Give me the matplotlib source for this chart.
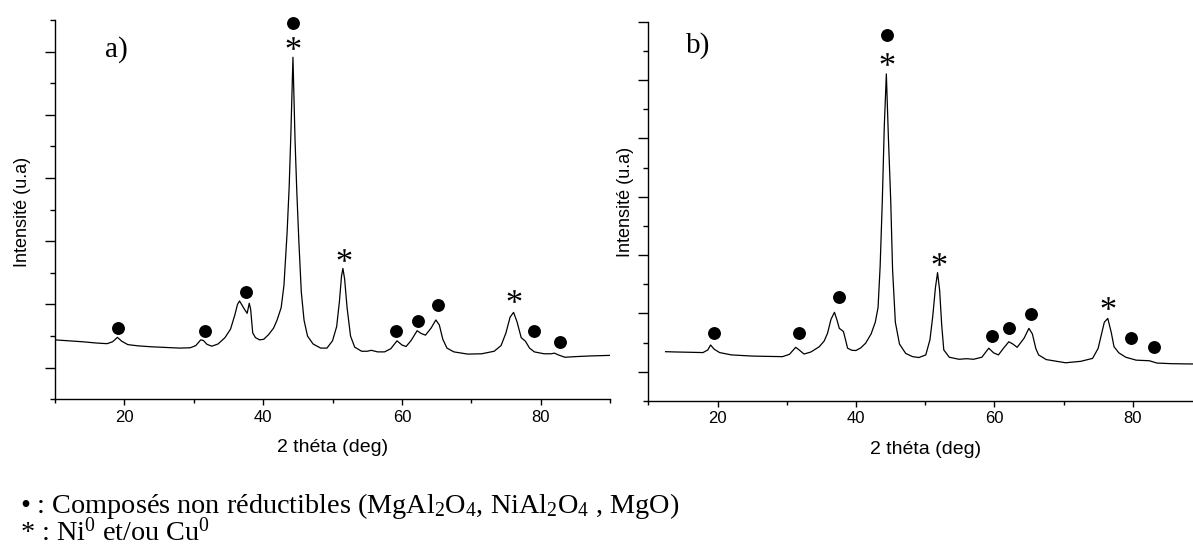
import numpy as np
import matplotlib
matplotlib.use("Agg")
import matplotlib.pyplot as plt
from matplotlib.ticker import MultipleLocator, NullFormatter
from matplotlib.textpath import TextPath
from matplotlib.path import Path
from matplotlib.font_manager import FontProperties

# pattern a) : 2theta (deg) and intensity (arbitrary units)
a_theta = [10, 12, 14, 16, 17.5, 18.3, 19.0, 19.6, 20.5, 22, 24, 26, 28, 29.5,
           30.3, 31.0, 31.4, 31.9, 32.6, 33.5, 34.5, 35.3, 35.9, 36.3, 36.6,
           36.9, 37.3, 37.7, 38.0, 38.2, 38.5, 38.9, 39.5, 40.1, 40.8, 41.5,
           42.0, 42.6, 43.0, 43.45, 43.75, 44.0, 44.3, 44.6, 44.85, 45.15,
           45.5, 45.9, 46.4, 47.2, 48.3, 49.2, 50.0, 50.6, 51.0, 51.3, 51.5,
           51.75, 52.1, 52.6, 53.2, 54.2, 55.0, 55.6, 56.5, 57.5, 58.4, 59.3,
           60.0, 60.6, 61.3, 62.2, 62.8, 63.4, 64.2, 64.9, 65.4, 65.9, 66.5,
           67.5, 69.5, 71.5, 73.3, 74.3, 75.0, 75.6, 76.1, 76.6, 77.2, 77.8,
           78.4, 79.1, 80.5, 81.5, 82.0, 82.6, 83.5, 85, 87, 90]
a_int = [1.88, 1.85, 1.82, 1.78, 1.76, 1.82, 1.96, 1.84, 1.73, 1.69, 1.66, 1.64,
         1.62, 1.63, 1.70, 1.88, 1.86, 1.74, 1.68, 1.75, 1.95, 2.22, 2.65, 3.00,
         3.11, 3.00, 2.85, 2.72, 3.04, 2.85, 2.10, 1.95, 1.88, 1.90, 2.05, 2.25,
         2.50, 2.90, 3.60, 5.25, 6.70, 8.40, 10.82, 8.20, 6.60, 5.00,
         3.40, 2.50, 2.00, 1.75, 1.62, 1.62, 1.85, 2.30, 3.10, 3.90, 4.14,
         3.80, 2.90, 2.00, 1.65, 1.52, 1.52, 1.55, 1.50, 1.50, 1.60, 1.85,
         1.72, 1.67, 1.85, 2.17, 2.08, 2.03, 2.25, 2.51, 2.35, 1.90, 1.62,
         1.50, 1.43, 1.44, 1.52, 1.70, 2.10, 2.60, 2.75, 2.45, 1.95, 1.84,
         1.62, 1.50, 1.44, 1.44, 1.46, 1.40, 1.33, 1.35, 1.37, 1.39]

# pattern b)
b_theta = [12.5, 14, 16, 17.9, 18.6, 19.0, 19.5, 20.3, 22, 25, 27, 29.4, 30.4,
           31.3, 31.8, 32.5, 33.5, 34.7, 35.4, 35.9, 36.4, 36.9, 37.3, 37.6,
           38.0, 38.2, 38.5, 38.8, 39.4, 40.0, 40.7, 41.4, 42.2, 42.8, 43.2,
           43.5, 43.82, 44.1, 44.4, 44.7, 45.03, 45.3, 45.7, 46.3, 47.2, 48.2,
           49.1, 50.1, 50.7, 51.1, 51.5, 51.8, 52.1, 52.4, 52.7, 53.5, 54.9,
           56.0, 57.0, 58.2, 59.2, 59.9, 60.6, 61.3, 62.1, 62.7, 63.3, 64.3,
           65.0, 65.5, 66.0, 66.4, 67.5, 70.3, 72.5, 74.2, 75.0, 75.4, 75.9,
           76.4, 76.9, 77.3, 78.0, 79.0, 80.5, 82.4, 83.5, 85.5, 88.1, 89.5]
b_int = [1.69, 1.68, 1.67, 1.66, 1.75, 1.92, 1.78, 1.66, 1.58, 1.54, 1.53, 1.52,
         1.60, 1.84, 1.75, 1.61, 1.68, 1.86, 2.05, 2.32, 2.80, 3.04, 2.75, 2.49,
         2.42, 2.38, 2.10, 1.81, 1.74, 1.73, 1.82, 1.98, 2.30, 2.70, 3.20,
         4.60, 6.89, 9.40, 11.21, 9.00, 6.89, 4.50, 2.70, 1.95, 1.63, 1.52,
         1.49, 1.58, 2.10, 2.89, 3.90, 4.40, 3.80, 2.60, 1.75, 1.50, 1.43,
         1.45, 1.43, 1.50, 1.81, 1.65, 1.58, 1.80, 2.03, 1.95, 1.84, 2.15,
         2.49, 2.30, 1.80, 1.58, 1.42, 1.31, 1.36, 1.46, 1.80, 2.20, 2.70,
         2.83, 2.35, 1.86, 1.65, 1.50, 1.40, 1.38, 1.30, 1.28, 1.27, 1.27]

# phase markers (dots: non reducible compounds, stars: Ni0 / Cu0)
a_dot_x = [19.15, 31.6, 37.55, 44.35, 59.2, 62.36, 65.15, 79.0, 82.75]
a_dot_y = [2.27, 2.17, 3.41, 11.92, 2.17, 2.49, 2.97, 2.17, 1.80]
a_star_x = [44.35, 51.7, 76.1]
a_star_y = [11.27, 4.57, 3.27]
b_dot_x = [19.5, 31.8, 37.5, 44.5, 59.7, 62.1, 65.3, 79.8, 83.1]
b_dot_y = [2.34, 2.32, 3.55, 12.55, 2.23, 2.51, 2.97, 2.15, 1.86]
b_star_x = [44.5, 52.0, 76.5]
b_star_y = [11.71, 4.86, 3.37]

legend_lines = ['• : Composés non réductibles (MgAl$_2$O$_4$, NiAl$_2$O$_4$ , MgO)',
                '* : Ni$^0$ et/ou Cu$^0$']

W, H = 1193, 552


def star_marker():
    # Times-like asterisk glyph, recentred so the marker sits on its point
    tp = TextPath((0, 0), '*', size=10, prop=FontProperties(family='Liberation Serif'))
    v = tp.vertices.copy()
    codes = tp.codes
    real = codes != Path.CLOSEPOLY
    x0, x1 = v[real, 0].min(), v[real, 0].max()
    y0, y1 = v[real, 1].min(), v[real, 1].max()
    v[:, 0] -= (x0 + x1) / 2
    v[:, 1] -= (y0 + y1) / 2
    v[~real] = 0
    return Path(v, codes)


def px_axes(fig, left, top, right, bottom):
    # axes rectangle given in pixel coordinates of the image
    return fig.add_axes([left / W, 1 - bottom / H, (right - left) / W, (bottom - top) / H])


def draw_panel(ax, theta, inten, dx, dy, sx, sy, ytop, tag, tag_xy, ylab_xy, star):
    ax.plot(theta, inten, color='black', lw=0.9)
    ax.plot(dx, dy, 'o', color='black', ms=9.3, mec='none', clip_on=False)
    ax.plot(sx, sy, ls='none', marker=star, color='black', mec='none', ms=10,
            clip_on=False)

    ax.set_xlim(10, 90)
    ax.set_ylim(0, ytop)
    for s in ['top', 'right']:
        ax.spines[s].set_visible(False)
    for s in ['left', 'bottom']:
        ax.spines[s].set_linewidth(1.0)

    ax.xaxis.set_major_locator(MultipleLocator(20))
    ax.xaxis.set_minor_locator(MultipleLocator(10))
    ax.yaxis.set_major_locator(MultipleLocator(2, offset=1))
    ax.yaxis.set_minor_locator(MultipleLocator(1))
    ax.yaxis.set_major_formatter(NullFormatter())
    ax.tick_params(axis='x', which='major', direction='out', length=4.5, width=1,
                   labelsize=12, pad=3)
    ax.tick_params(axis='x', which='minor', direction='out', length=3, width=1)
    ax.tick_params(axis='y', which='major', direction='out', length=7, width=1)
    ax.tick_params(axis='y', which='minor', direction='out', length=3.5, width=1)
    for lab in ax.get_xticklabels():
        lab.set_fontfamily('Liberation Sans')

    ax.set_xlabel('2 théta (deg)', fontsize=14, family='Liberation Sans', va='center')
    ax.xaxis.set_label_coords(0.5, -0.128)
    ax.set_ylabel('Intensité (u.a)', fontsize=13, family='Liberation Sans', va='center')
    ax.yaxis.set_label_coords(*ylab_xy)

    ax.text(tag_xy[0], tag_xy[1], tag, fontsize=21, family='Liberation Serif',
            ha='center', va='center')


def main():
    plt.rcParams['mathtext.fontset'] = 'custom'
    plt.rcParams['mathtext.rm'] = 'Liberation Serif'
    plt.rcParams['mathtext.it'] = 'Liberation Serif:italic'

    star = star_marker()
    fig = plt.figure(figsize=(W / 100, H / 100), dpi=100)

    ax1 = px_axes(fig, 55, 20, 610, 399.3)
    draw_panel(ax1, a_theta, a_int, a_dot_x, a_dot_y, a_star_x, a_star_y,
               12, 'a)', (18.9, 11.05), (-0.0577, 0.495), star)

    ax2 = px_axes(fig, 648.3, 21.7, 648.3 + 553.6, 401)
    draw_panel(ax2, b_theta, b_int, b_dot_x, b_dot_y, b_star_x, b_star_y,
               13, 'b)', (17.2, 12.2), (-0.042, 0.525), star)

    # two-line key under the panels, kept as one text block
    fig.text(20 / W, 1 - 541 / H, '\n'.join(legend_lines),
             fontsize=20.3, family='Liberation Serif', ha='left', va='baseline',
             linespacing=0.88)

    fig.savefig('out.png', dpi=100)


if __name__ == "__main__":
    main()
